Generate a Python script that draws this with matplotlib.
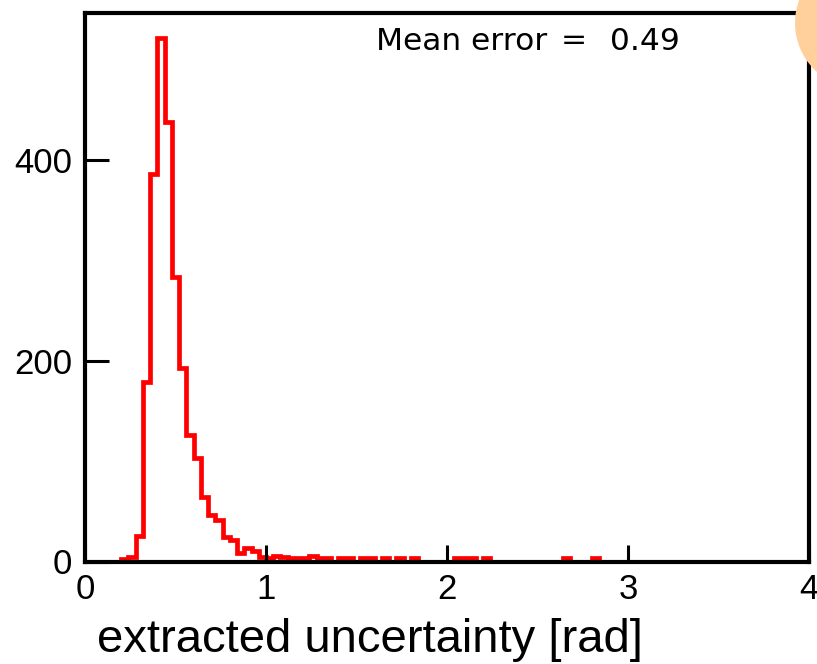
import matplotlib.pyplot as plt
import matplotlib.patches as mpatches
import numpy as np

# ---------------- Data ----------------
# histogram of extracted uncertainty, 100 bins of 0.04 rad from 0 to 4
bin_lo, bin_hi, n_bins = 0.0, 4.0, 100
counts = [0, 0, 0, 0, 0, 2, 4, 25, 179, 386,
          521, 438, 283, 193, 126, 103, 64, 46, 41, 24,
          21, 8, 13, 10, 4, 3, 5, 4, 3, 3,
          3, 5, 3, 3, 0, 3, 3, 0, 3, 3,
          0, 3, 0, 3, 0, 3, 0, 0, 0, 0,
          0, 3, 3, 3, 0, 3, 0, 0, 0, 0,
          0, 0, 0, 0, 0, 0, 3, 0, 0, 0,
          3, 0, 0, 0, 0, 0, 0, 0, 0, 0,
          0, 0, 0, 0, 0, 0, 0, 0, 0, 0,
          0, 0, 0, 0, 0, 0, 0, 0, 0, 0]
mean_error = 0.49

x_ticks = [0, 1, 2, 3, 4]
y_ticks = [0, 200, 400]
x_label = 'extracted uncertainty [rad]'

# ---------------- Plotting ----------------
W, H = 817, 664
fig = plt.figure(figsize=(W / 100, H / 100), dpi=100)
ax = fig.add_axes([85 / W, 1 - 561.5 / H, (809 - 85) / W, (561.5 - 13.3) / H])

edges = np.linspace(bin_lo, bin_hi, n_bins + 1)
ax.stairs(counts, edges, color='red', linewidth=3.4)

ax.set_xlim(0, 4)
ax.set_ylim(0, 546)
ax.set_xticks(x_ticks)
ax.set_yticks(y_ticks)
ax.set_xticklabels([str(t) for t in x_ticks], family='Liberation Sans', fontsize=25)
ax.set_yticklabels([str(t) for t in y_ticks], family='Liberation Sans', fontsize=25)
ax.tick_params(axis='x', direction='in', length=12, width=2.2, pad=8, colors='black')
ax.tick_params(axis='y', direction='in', length=17, width=2.2, pad=9, colors='black')
for sp in ax.spines.values():
    sp.set_linewidth(3)
    sp.set_color('black')

# x label sits left of centre in the original
fig.text(97 / W, 1 - 652 / H, x_label, family='Liberation Sans', fontsize=34,
         ha='left', va='baseline')

# mean error text
fig.text(376 / W, 1 - 49.5 / H, 'Mean error', family='DejaVu Sans', fontsize=22.5,
         ha='left', va='baseline')
fig.text(574 / W, 1 - 49.5 / H, '=', family='DejaVu Sans', fontsize=22.5,
         ha='center', va='baseline')
fig.text(610 / W, 1 - 49.5 / H, f'{mean_error:.2f}', family='DejaVu Sans', fontsize=22.5,
         ha='left', va='baseline')

# peach circle cut off at the top right corner
r = 65.6
circ = mpatches.Ellipse((860.6 / W, 1 - 23 / H), 2 * r / W, 2 * r / H,
                        transform=fig.transFigure, facecolor='#FFD09B',
                        edgecolor='none', zorder=10)
fig.add_artist(circ)

plt.savefig('out.png', dpi=100)
